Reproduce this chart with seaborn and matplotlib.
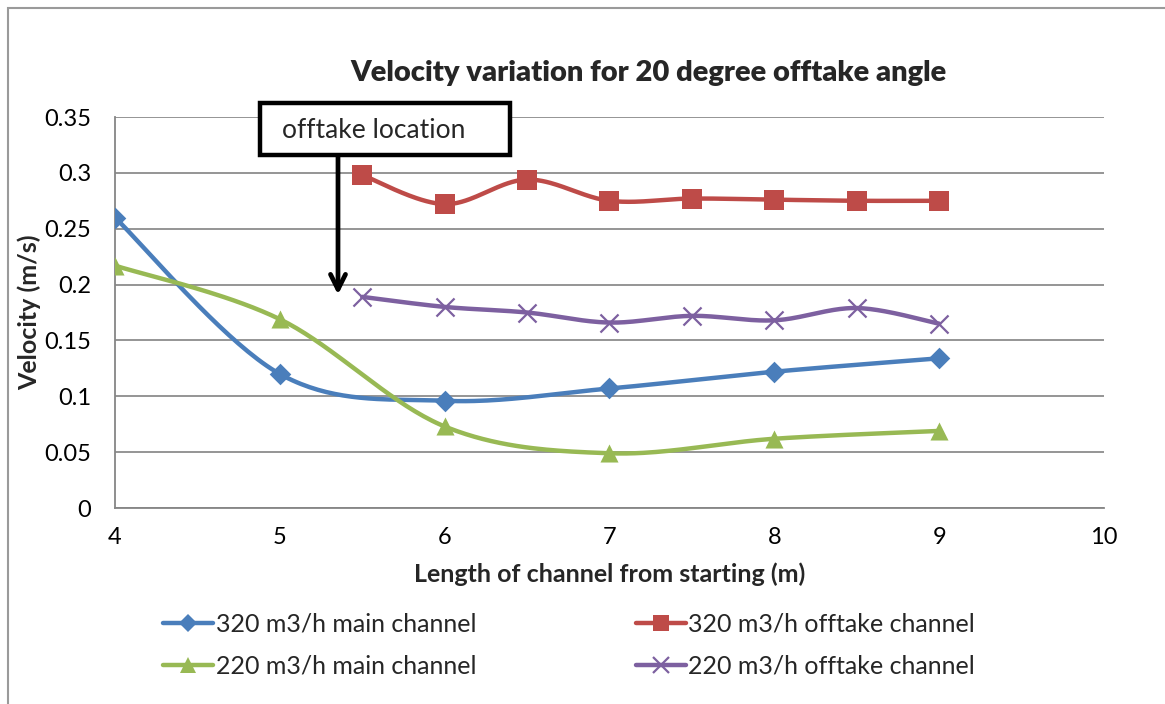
import numpy as np
import pandas as pd
import matplotlib
matplotlib.use("Agg")
import matplotlib.pyplot as plt
from matplotlib.lines import Line2D
from matplotlib.patches import Rectangle
import seaborn as sns

# Measured velocities along the channel
x_main = [4, 5, 6, 7, 8, 9]
v_main_320 = [0.260, 0.120, 0.096, 0.107, 0.122, 0.134]
v_main_220 = [0.217, 0.169, 0.073, 0.049, 0.062, 0.069]

x_offtake = [5.5, 6, 6.5, 7, 7.5, 8, 8.5, 9]
v_off_320 = [0.298, 0.272, 0.294, 0.275, 0.277, 0.276, 0.275, 0.275]
v_off_220 = [0.189, 0.180, 0.175, 0.166, 0.172, 0.168, 0.179, 0.165]

series_names = ["320 m3/h main channel", "320 m3/h offtake channel",
                "220 m3/h main channel", "220 m3/h offtake channel"]
y_ticks = [0, 0.05, 0.1, 0.15, 0.2, 0.25, 0.3, 0.35]
x_ticks = [4, 5, 6, 7, 8, 9, 10]

sns.set_theme(style="white")
plt.rcParams["font.family"] = ["Lato", "DejaVu Sans"]


def smooth(xs, ys, n=40):
    """Cubic Bezier smoothing through every point (spreadsheet-style)."""
    p = np.column_stack([xs, ys]).astype(float)
    p_ext = np.vstack([p[0], p, p[-1]])
    out = []
    t = np.linspace(0, 1, n)[:, None]
    for i in range(len(p) - 1):
        p0, p3 = p_ext[i + 1], p_ext[i + 2]
        c1 = p0 + (p_ext[i + 2] - p_ext[i]) / 6.0
        c2 = p3 - (p_ext[i + 3] - p_ext[i + 1]) / 6.0
        seg = ((1 - t) ** 3) * p0 + 3 * ((1 - t) ** 2) * t * c1 \
            + 3 * (1 - t) * t ** 2 * c2 + t ** 3 * p3
        out.append(seg if i == 0 else seg[1:])
    s = np.vstack(out)
    return s[:, 0], s[:, 1]


fig = plt.figure(figsize=(11.65, 7.04), dpi=100)
ax = fig.add_axes([0.0987, 0.2784, 0.8489, 0.5554])

styles = [
    (x_main, v_main_320, series_names[0], "#4A7EBB", "D", 11, None),
    (x_offtake, v_off_320, series_names[1], "#BE4B48", "s", 14, None),
    (x_main, v_main_220, series_names[2], "#98B954", "^", 13, None),
    (x_offtake, v_off_220, series_names[3], "#7D60A0", "x", 13, 1.6),
]

handles = []
for xs, ys, name, col, mk, ms, mew in styles:
    sx, sy = smooth(xs, ys)
    curve = pd.DataFrame({"x": sx, "v": sy})
    sns.lineplot(data=curve, x="x", y="v", ax=ax, color=col, lw=3.2,
                 sort=False, estimator=None, zorder=3)
    pts = pd.DataFrame({"x": xs, "v": ys})
    if mk == "x":
        sns.scatterplot(data=pts, x="x", y="v", ax=ax, marker="x", color=col,
                        s=ms ** 2, linewidth=mew, zorder=4)
    else:
        sns.scatterplot(data=pts, x="x", y="v", ax=ax, marker=mk, color=col,
                        s=ms ** 2, edgecolor=col, linewidth=0, zorder=4)
    handles.append(Line2D([0], [0], color=col, lw=3.2, marker=mk,
                          markersize=ms * 0.85, markeredgewidth=mew if mew else 0,
                          markeredgecolor=col, markerfacecolor=col))

ax.set_xlim(4, 10)
ax.set_ylim(0, 0.35)
ax.set_xticks(x_ticks)
ax.set_yticks(y_ticks)
ax.set_yticklabels([f"{v:g}" for v in y_ticks])
ax.set_xticklabels([str(v) for v in x_ticks])
ax.tick_params(axis="both", labelsize=17, length=5, width=1.2,
               direction="out", colors="#868686", labelcolor="black")
ax.tick_params(axis="y", pad=12)
ax.tick_params(axis="x", pad=9)
ax.yaxis.grid(True, color="#8C8C8C", lw=1.3)
ax.xaxis.grid(False)
for side in ["top", "right"]:
    ax.spines[side].set_visible(False)
for side in ["left", "bottom"]:
    ax.spines[side].set_color("#868686")
    ax.spines[side].set_linewidth(1.3)

ax.set_xlabel("Length of channel from starting (m)", fontsize=18,
              fontweight="bold", labelpad=10)
ax.set_ylabel("Velocity (m/s)", fontsize=18, fontweight="bold", labelpad=2)
fig.text(0.557, 0.897, "Velocity variation for 20 degree offtake angle",
         ha="center", va="center", fontsize=21, fontweight="heavy")

# Callout box with arrow pointing to the offtake position
ax.add_patch(Rectangle((4.880, 0.316), 1.517, 0.0466, fill=True, fc="white",
                       ec="black", lw=3.2, clip_on=False, zorder=6))
ax.text(5.572, 0.3375, "offtake location", ha="center", va="center",
        fontsize=19, clip_on=False, zorder=7)
ax.annotate("", xy=(5.353, 0.191), xytext=(5.353, 0.316),
            arrowprops=dict(arrowstyle="->,head_length=0.9,head_width=0.45",
                            color="black", lw=3.4, shrinkA=0, shrinkB=0),
            annotation_clip=False, zorder=5)

fig.legend(handles=[handles[0], handles[2], handles[1], handles[3]],
           labels=[series_names[0], series_names[2], series_names[1], series_names[3]],
           ncol=2, loc="center left", bbox_to_anchor=(163 / 1165, 1 - 645 / 704),
           frameon=False, borderpad=0, borderaxespad=0,
           fontsize=18, handlelength=2.0, handletextpad=0.1,
           columnspacing=6.4, labelspacing=0.75)

fig.patches.append(Rectangle((8 / 1165, -0.05), 1.2, 1.05 - 8 / 704,
                             transform=fig.transFigure, fill=False,
                             ec="#9A9A9A", lw=1.5))

fig.savefig("out.png", dpi=100, facecolor="white")
